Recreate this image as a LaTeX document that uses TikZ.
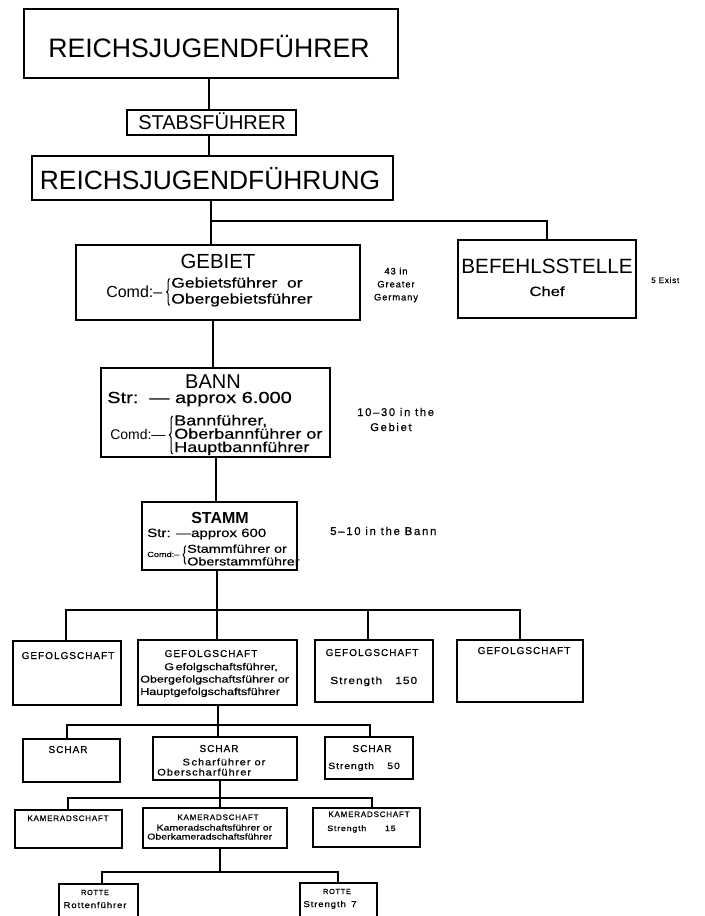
\documentclass[tikz,border=0pt]{standalone}
\usepackage{fontspec}
\setmainfont{Liberation Sans}
\newfontfamily\wideF[FakeStretch=1.25,FakeBold=0.5]{Liberation Sans}
\newfontfamily\spcF[LetterSpace=10,FakeBold=0.6]{Liberation Sans}
\newfontfamily\spcW[LetterSpace=10,FakeStretch=1.15,FakeBold=0.6]{Liberation Sans}
\newfontfamily\spcX[LetterSpace=15,FakeBold=0.6]{Liberation Sans}
\usetikzlibrary{fit,decorations.pathreplacing}
\newcommand\fsz[2]{\fontsize{#1}{#2}\selectfont}
\begin{document}
\begin{tikzpicture}[x=0.75pt,y=-0.75pt,
  bx/.style={draw, line width=1.4pt, inner sep=0pt},
  bigbx/.style={draw, line width=1.9pt, inner sep=0pt},
  smbx/.style={draw, line width=1.1pt, inner sep=0pt},
  lbl/.style={inner sep=0pt, anchor=base},
  lblw/.style={inner sep=0pt, anchor=base west},
  blk/.style={inner sep=0pt, align=left, anchor=west},
  brc/.style={decorate, decoration={brace, amplitude=#1}, line width=0.8pt},
  conn/.style={line width=1.5pt},
  sconn/.style={line width=1.2pt}]
\useasboundingbox (0,0) rectangle (705,916);
\fill[white] (0,0) rectangle (705,916);
\clip (0,0) rectangle (705,916);

% ---------- boxes ----------
\node[bigbx, fit={(24,9)(398,78)}] (rjf) {};
\node[bx, line width=1.6pt, fit={(127,110)(296,135)}] (stf) {};
\node[bigbx, fit={(32,156)(393,200)}] (rjfg) {};
\node[bx, fit={(76,245)(360,320)}] (geb) {};
\node[bx, fit={(458,240)(636,318)}] (bef) {};
\node[bx, fit={(101,368)(330,457)}] (bann) {};
\node[bx, fit={(142,502)(297,570)}] (stamm) {};
\node[bx, fit={(13,641)(121,705)}] (g1) {};
\node[bx, fit={(138,640)(297,705)}] (g2) {};
\node[bx, fit={(315,640)(433,702)}] (g3) {};
\node[bx, fit={(457,640)(583,702)}] (g4) {};
\node[smbx, fit={(23,739)(120,782)}] (s1) {};
\node[smbx, fit={(153,737)(297,780)}] (s2) {};
\node[smbx, fit={(325,737)(413,779)}] (s3) {};
\node[smbx, fit={(15,810)(122,848)}] (k1) {};
\node[smbx, fit={(143,808)(287,848)}] (k2) {};
\node[smbx, fit={(313,808)(420,847)}] (k3) {};
\node[smbx, fit={(59,884)(138,930)}] (r1) {};
\node[smbx, fit={(300,883)(377,930)}] (r2) {};

% ---------- connectors ----------
\coordinate (a1) at (209,94);
\draw[conn] (rjf.south -| a1) -- (stf.north -| a1);
\draw[conn] (stf.south -| a1) -- (rjfg.north -| a1);
\coordinate (j1) at (211,221);
\draw[conn] (rjfg.south -| j1) -- (geb.north -| j1);
\draw[conn] (j1) -| (bef.north);
\coordinate (a2) at (213,340);
\draw[conn] (geb.south -| a2) -- (bann.north -| a2);
\coordinate (a3) at (216,480);
\draw[conn] (bann.south -| a3) -- (stamm.north -| a3);
\coordinate (j2) at (217,610);
\coordinate (j2l) at (66,610);
\coordinate (j2m) at (368,610);
\coordinate (j2r) at (520,610);
\draw[conn] (stamm.south -| j2) -- (g2.north -| j2);
\draw[conn] (g1.north -| j2l) -- (j2l) -- (j2r) -- (g4.north -| j2r);
\draw[conn] (j2m) -- (g3.north -| j2m);
\coordinate (j3) at (218,725);
\coordinate (j3l) at (67,725);
\coordinate (j3r) at (370,725);
\draw[sconn] (g2.south -| j3) -- (s2.north -| j3);
\draw[sconn] (s1.north -| j3l) -- (j3l) -- (j3r) -- (s3.north -| j3r);
\coordinate (j4) at (220,798);
\coordinate (j4l) at (68,798);
\coordinate (j4r) at (372,798);
\draw[sconn] (s2.south -| j4) -- (k2.north -| j4);
\draw[sconn] (k1.north -| j4l) -- (j4l) -- (j4r) -- (k3.north -| j4r);
\coordinate (j5) at (220,872);
\coordinate (j5l) at (102,872);
\coordinate (j5r) at (338,872);
\draw[sconn] (k2.south -| j5) -- (j5);
\draw[sconn] (r1.north -| j5l) -- (j5l) -- (j5r) -- (r2.north -| j5r);

% ---------- texts ----------
\node[lbl, font=\fsz{20}{24}] (t1) at (209,58) {REICHSJUGENDFÜHRER};
\node[lbl, font=\fsz{15}{18}] (t2) at (212,130) {STABSFÜHRER};
\node[lbl, font=\fsz{19.8}{24}] (t3) at (210,190) {REICHSJUGENDFÜHRUNG};

% GEBIET
\node[lbl, font=\fsz{15.3}{18}] (tgeb) at (218,268) {GEBIET};
\node[lblw, font=\fsz{12}{14}] (tgebc) at (106,297) {Comd:–};
\node[blk, font=\wideF\fsz{10.5}{12}] (tgebl) at (171,292) {Gebietsführer\ \ or\\Obergebietsführer};
\draw[brc=2.2pt] ([xshift=-1pt,yshift=1pt]tgebl.south west) -- ([xshift=-1pt,yshift=-1pt]tgebl.north west);
\node[inner sep=0pt, align=center, font=\spcF\fsz{7}{9.75}] (n43) at (396,285) {43 in\\Greater\\Germany};

% BEFEHLSSTELLE
\node[lbl, font=\fsz{15.5}{18}] (tbef) at (547,273) {BEFEHLSSTELLE};
\node[lbl, font=\wideF\fsz{10}{12}] (tchef) at (547,296) {Chef};
\node[lblw, font=\spcF\fsz{6}{8}] (n5) at (651,283) {5 Exist};

% BANN
\node[lbl, font=\fsz{15}{18}] (tbann) at (213,388) {BANN};
\node[lblw, font=\wideF\fsz{12}{14}] (tbanns) at (107,403) {Str:\ \ — approx 6.000};
\node[lblw, font=\fsz{10.5}{12}] (tbannc) at (110,439) {Comd:—};
\node[blk, font=\wideF\fsz{10.8}{10}] (tbannl) at (174,435) {Bannführer,\\Oberbannführer or\\Hauptbannführer};
\draw[brc=2.4pt] ([xshift=-1pt,yshift=1pt]tbannl.south west) -- ([xshift=-1pt,yshift=-1pt]tbannl.north west);
\node[lblw, font=\spcX\fsz{8.4}{10}] (n1030) at (357,416) {10–30 in the};
\node[lblw, font=\spcX\fsz{8.4}{10}] (n1030b) at (370,431) {Gebiet};

% STAMM
\node[lbl, font=\bfseries\fsz{12}{14}] (tstamm) at (220,523) {STAMM};
\node[lblw, font=\wideF\fsz{9}{11}] (tstamms) at (147,537) {Str: —approx 600};
\node[lblw, font=\wideF\fsz{5.5}{7}] (tstammc) at (147,557) {Comd:–};
\node[blk, font=\wideF\fsz{8.6}{9.5}] (tstamml) at (187,555) {Stammführer or\\Oberstammführer};
\draw[brc=1.8pt] ([xshift=-1pt,yshift=1pt]tstamml.south west) -- ([xshift=-1pt,yshift=-1pt]tstamml.north west);
\node[lblw, font=\spcX\fsz{8.5}{10}] (n510) at (330,535) {5–10 in the Bann};

% GEFOLGSCHAFT
\node[lbl, font=\spcF\fsz{7.5}{9}] (tg1) at (68,659) {GEFOLGSCHAFT};
\node[lbl, font=\spcF\fsz{7.5}{9}] (tg2) at (211,657) {GEFOLGSCHAFT};
\node[blk, font=\wideF\fsz{7.5}{9.3}] (tg2c) at (140,680)
  {\hspace*{18pt}G\,efolgschaftsführer,\\Obergefolgschaftsführer or\\Hauptgefolgschaftsführer};
\node[lbl, font=\spcF\fsz{7.5}{9}] (tg3) at (372,656) {GEFOLGSCHAFT};
\node[lblw, font=\spcW\fsz{7.7}{9}] (tg3s) at (330,684) {Strength\hspace{10pt}150};
\node[lbl, font=\spcF\fsz{7.5}{9}] (tg4) at (524,654) {GEFOLGSCHAFT};

% SCHAR
\node[lbl, font=\spcF\fsz{7.5}{9}] (ts1) at (68,753) {SCHAR};
\node[lbl, font=\spcF\fsz{7.5}{9}] (ts2) at (219,752) {SCHAR};
\node[blk, font=\spcW\fsz{7.2}{7.6}] (ts2c) at (157,767)
  {\hspace*{19pt}S\,charführer or\\Oberscharführer};
\node[lbl, font=\spcF\fsz{7.5}{9}] (ts3) at (372,752) {SCHAR};
\node[lblw, font=\spcW\fsz{6.8}{8}] (ts3s) at (328,769) {Strength\hspace{10pt}50};

% KAMERADSCHAFT
\node[lbl, font=\spcF\fsz{6}{7}] (tk1) at (68,821) {KAMERADSCHAFT};
\node[lbl, font=\spcF\fsz{6}{7}] (tk2) at (218,820) {KAMERADSCHAFT};
\node[blk, font=\wideF\fsz{6.3}{6.75}] (tk2c) at (147,832)
  {\hspace*{7pt}Kameradschaftsführer or\\Oberkameradschaftsführer};
\node[lbl, font=\spcF\fsz{6}{7}] (tk3) at (369,817) {KAMERADSCHAFT};
\node[lblw, font=\spcW\fsz{5.8}{7}] (tk3s) at (327,831) {Strength\hspace{14pt}15};

% ROTTE
\node[lbl, font=\spcF\fsz{5.5}{7}] (tr1) at (95,895) {ROTTE};
\node[lbl, font=\spcW\fsz{6.3}{7}] (tr1c) at (95,908) {Rottenführer};
\node[lbl, font=\spcF\fsz{5.5}{7}] (tr2) at (337,894) {ROTTE};
\node[lbl, font=\spcW\fsz{6.3}{7}] (tr2s) at (330,907) {Strength\hspace{4pt}7};
\end{tikzpicture}
\end{document}
